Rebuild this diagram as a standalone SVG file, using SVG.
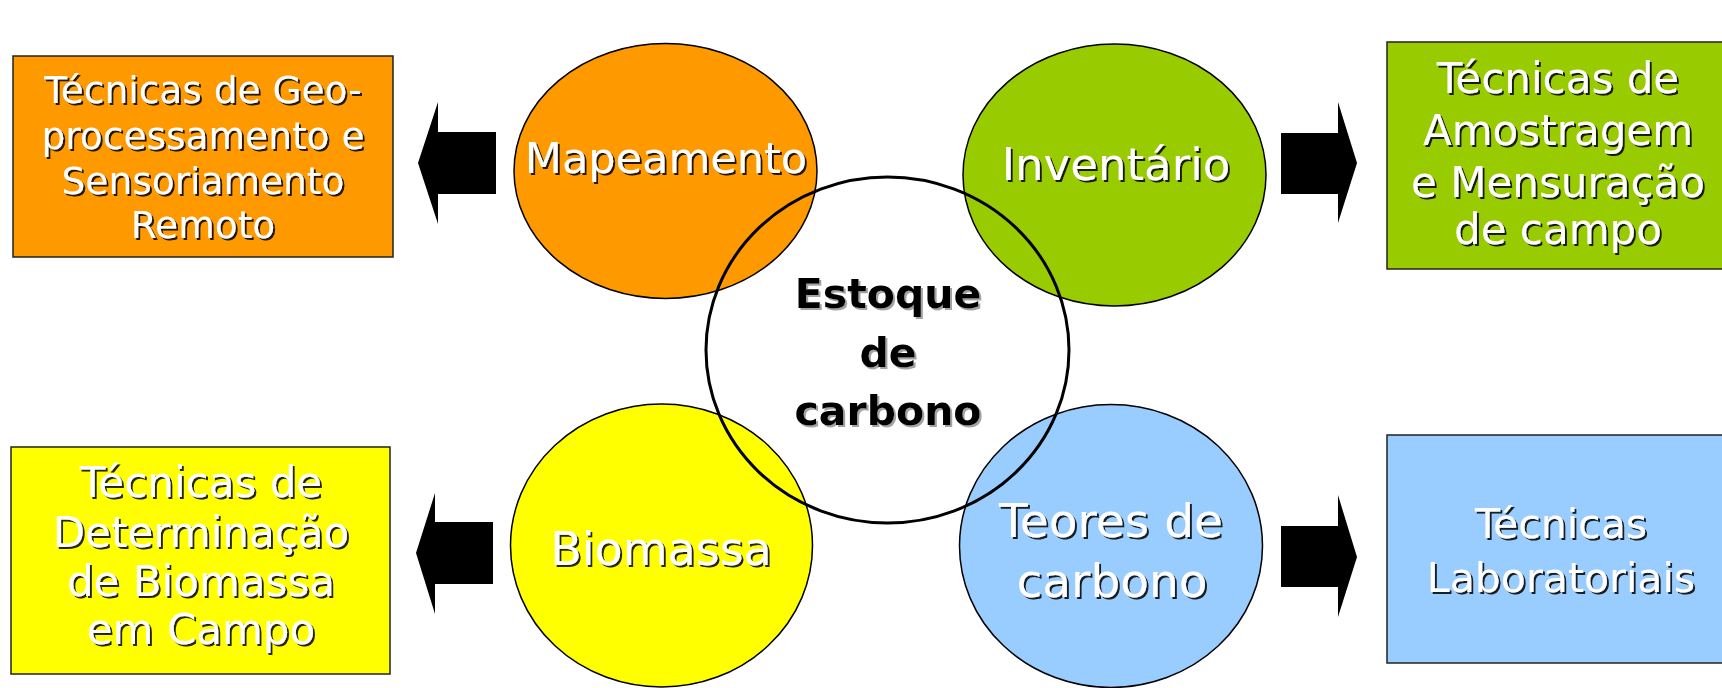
<svg xmlns="http://www.w3.org/2000/svg" width="1722" height="688" viewBox="0 0 1722 688">
<defs>
<filter id="sh" x="-10%" y="-10%" width="130%" height="130%">
<feDropShadow dx="2" dy="2" stdDeviation="0.4" flood-color="#000" flood-opacity="0.85"/>
</filter>
<filter id="shg" x="-10%" y="-10%" width="130%" height="130%">
<feDropShadow dx="2" dy="2" stdDeviation="0.6" flood-color="#999" flood-opacity="0.9"/>
</filter>
</defs>
<style>
.box{stroke:#222;stroke-width:1.5}
.circ{stroke:#000;stroke-width:1.5}
.wt{fill:#fff;font-family:"DejaVu Sans",Verdana,sans-serif;text-anchor:middle;filter:url(#sh)}
.bt{fill:#000;font-family:"DejaVu Sans",Verdana,sans-serif;font-weight:bold;text-anchor:middle;filter:url(#shg)}
.arr{fill:#000}
</style>
<rect width="1722" height="688" fill="#fff"/>

<g id="box-geo">
<rect class="box" x="13" y="56" width="380" height="201" fill="#FF9900"/>
<text class="wt" font-size="37.5"><tspan x="203" y="103">Técnicas de Geo-</tspan><tspan x="203" y="149">processamento e</tspan><tspan x="203" y="194">Sensoriamento</tspan><tspan x="203" y="238">Remoto</tspan></text>
</g>

<g id="box-amostragem">
<rect class="box" x="1387" y="42" width="343" height="227" fill="#99CC00"/>
<text class="wt" font-size="42"><tspan x="1558" y="93">Técnicas de</tspan><tspan x="1558" y="145">Amostragem</tspan><tspan x="1558" y="197">e Mensuração</tspan><tspan x="1558" y="244">de campo</tspan></text>
</g>

<g id="box-biomassa">
<rect class="box" x="11" y="447" width="379" height="227" fill="#FFFF00"/>
<text class="wt" font-size="42"><tspan x="201" y="497">Técnicas de</tspan><tspan x="201" y="547">Determinação</tspan><tspan x="201" y="596">de Biomassa</tspan><tspan x="201" y="644">em Campo</tspan></text>
</g>

<g id="box-lab">
<rect class="box" x="1387" y="435" width="343" height="228" fill="#99CCFF"/>
<text class="wt" font-size="41"><tspan x="1561" y="538">Técnicas</tspan><tspan x="1561" y="592">Laboratoriais</tspan></text>
</g>

<g id="mapeamento">
<ellipse class="circ" cx="665.5" cy="171" rx="151.5" ry="127.5" fill="#FF9900"/>
<text class="wt" font-size="43" x="666" y="173">Mapeamento</text>
</g>

<g id="inventario">
<ellipse class="circ" cx="1114.5" cy="175" rx="151.5" ry="131" fill="#99CC00"/>
<text class="wt" font-size="45" x="1116" y="180">Inventário</text>
</g>

<g id="biomassa">
<ellipse class="circ" cx="661.5" cy="545.5" rx="151" ry="141.5" fill="#FFFF00"/>
<text class="wt" font-size="46" x="661" y="565">Biomassa</text>
</g>

<g id="teores">
<ellipse class="circ" cx="1111" cy="546" rx="151.5" ry="141.5" fill="#99CCFF"/>
<text class="wt" font-size="47"><tspan x="1111" y="537">Teores de</tspan><tspan x="1112" y="597">carbono</tspan></text>
</g>

<g id="estoque">
<ellipse cx="887.5" cy="350" rx="181.5" ry="173" fill="none" stroke="#000" stroke-width="3"/>
<text class="bt" font-size="41"><tspan x="888" y="308">Estoque</tspan><tspan x="888" y="367">de</tspan><tspan x="888" y="425">carbono</tspan></text>
</g>

<g id="connectors">
<polygon class="arr" points="496,132 438,132 438,102 418,163 438,224 438,194 496,194"/>
<polygon class="arr" points="493,522 435,522 435,493 416,553 435,614 435,584 493,584"/>
<polygon class="arr" points="1281,133 1338,133 1338,102 1357,163 1338,223 1338,194 1281,194"/>
<polygon class="arr" points="1281,526 1338,526 1338,495 1357,557 1338,617 1338,587 1281,587"/>
</g>
</svg>
